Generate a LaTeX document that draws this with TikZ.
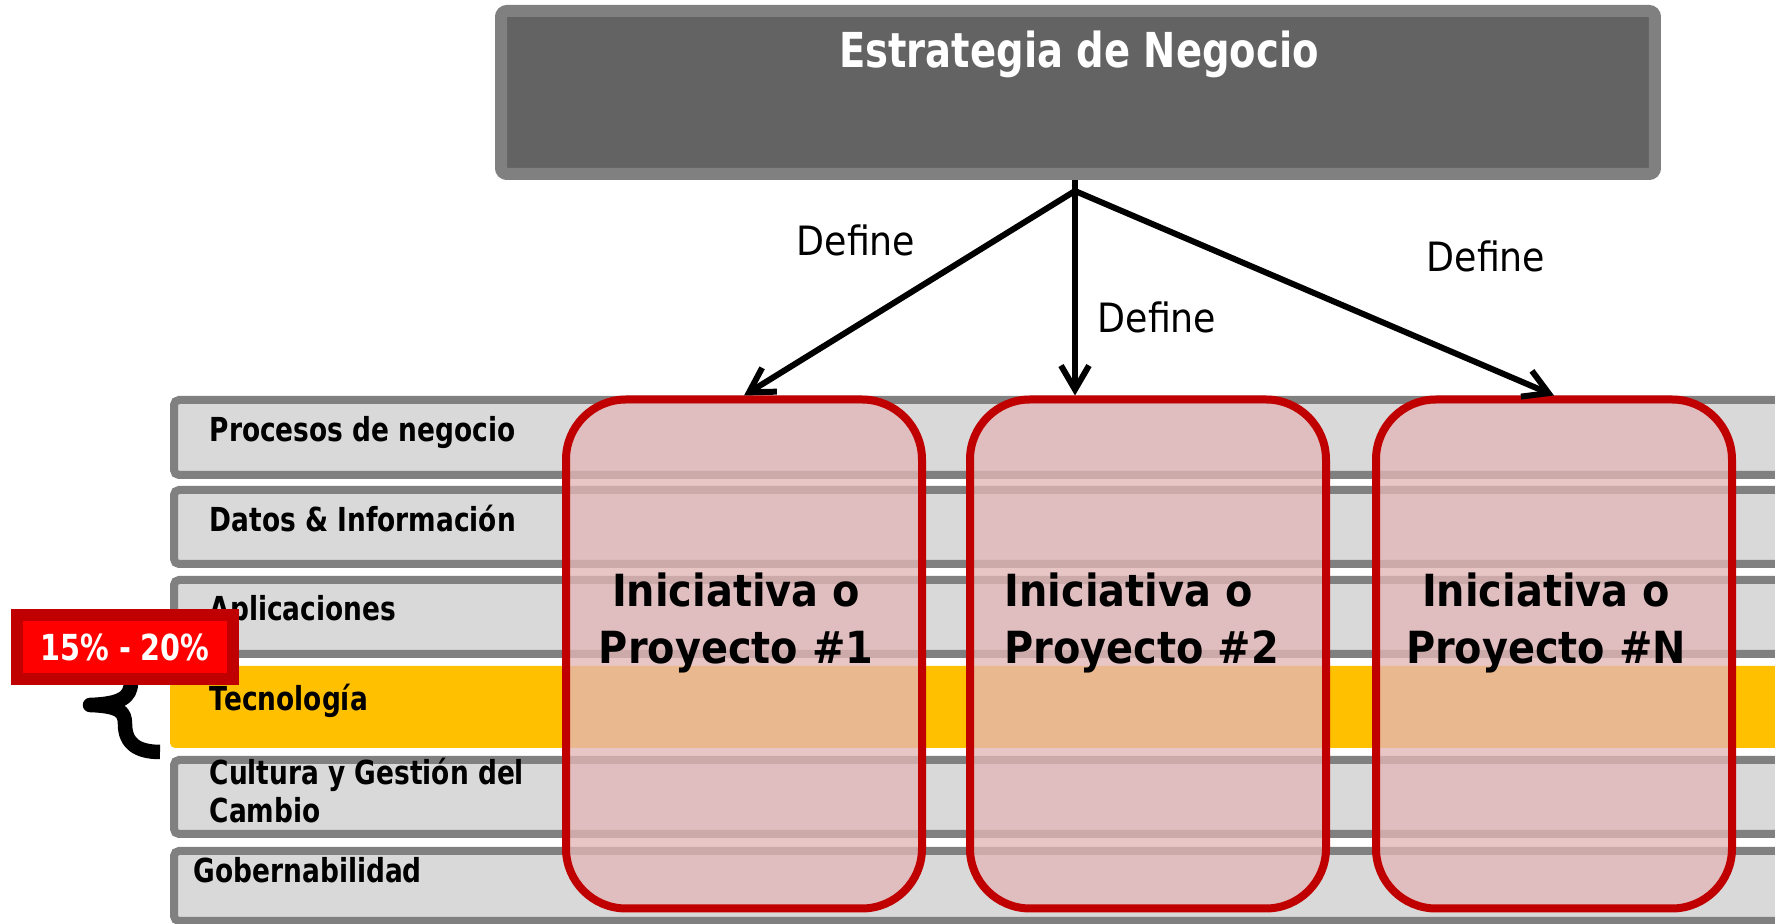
\documentclass[tikz,border=0pt]{standalone}
\usepackage{fontspec}
\setmainfont{DejaVu Sans}
\newfontfamily\fA{DejaVu Sans}[FakeStretch=0.8]
\newfontfamily\fB{DejaVu Sans}[FakeStretch=0.9]
\usetikzlibrary{arrows.meta}
\definecolor{cBarLine}{HTML}{808080}
\definecolor{cBarFill}{HTML}{D9D9D9}
\definecolor{cTec}{HTML}{FFC000}
\definecolor{cTopFill}{HTML}{636363}
\definecolor{cRedLine}{HTML}{C00000}
\definecolor{cRedFill}{HTML}{FF0000}
\definecolor{cPink}{HTML}{E3B6B7}
\tikzset{
  bar/.style={draw=cBarLine, fill=cBarFill, line width=0.8mm, rounded corners=0.5mm},
  barlabel/.style={anchor=base west, inner sep=0pt, font=\fA\bfseries\fontsize{9.4}{10.8}\selectfont},
  proj/.style={draw=cRedLine, fill=cPink, fill opacity=0.78, line width=0.8mm, rounded corners=6mm,
    minimum width=35.6mm, minimum height=50.9mm, inner sep=0pt},
  projtext/.style={anchor=base, inner sep=0pt, font=\fB\bfseries\fontsize{12.6}{16}\selectfont},
  deflabel/.style={anchor=base, inner sep=0pt, font=\fB\fontsize{11.5}{13}\selectfont},
  arr/.style={line width=0.6mm, -{Straight Barb[length=2.4mm,width=2.8mm]}},
  topbox/.style={draw=cBarLine, fill=cTopFill, line width=1.2mm, rounded corners=0.6mm,
    minimum width=115.4mm, minimum height=16.3mm, inner sep=0pt},
  pctbox/.style={draw=cRedLine, fill=cRedFill, line width=1.2mm, minimum width=21.6mm,
    minimum height=6.4mm, inner sep=0pt, text=white, font=\fA\bfseries\fontsize{10.2}{12}\selectfont},
  bracestyle/.style={line width=1.45mm, line join=round, line cap=butt}
}
\begin{document}
\begin{tikzpicture}[x=0.1mm,y=-0.1mm]
\useasboundingbox (0,0) rectangle (1775,924);
\fill[white] (0,0) rectangle (1775,924);
% layer bars
\begin{scope}
\clip (0,0) rectangle (1775,924);
\draw[bar] (174,400) rectangle (1800,475);
\draw[bar] (174,490) rectangle (1800,564);
\draw[bar] (174,580) rectangle (1800,654);
\fill[cTec, rounded corners=0.5mm] (170,666) rectangle (1800,748);
\draw[bar] (174,760) rectangle (1800,834);
\draw[bar] (174,851) rectangle (1800,921);
\end{scope}
% layer labels
\node[barlabel] (l1) at (209,442) {Procesos de negocio};
\node[barlabel] (l2) at (209,532) {Datos \& Información};
\node[barlabel] (l3) at (209,621) {Aplicaciones};
\node[barlabel] (l4) at (209,711) {Tecnología};
\node[barlabel] (l5a) at (209,785) {Cultura y Gestión del};
\node[barlabel] (l5b) at (209,823) {Cambio};
\node[barlabel] (l6) at (193,883) {Gobernabilidad};
% brace
\draw[bracestyle] (131,682) .. controls (131,698) and (120,704) .. (90,705)
  .. controls (120,706) and (125,712) .. (125,724)
  .. controls (125,744) and (138,752) .. (160,752);
% percentage label
\node[pctbox] (pct) at (125,647) {15\% - 20\%};
% project boxes
\node[proj] (p1) at (744,654) {};
\node[proj] (p2) at (1148,654) {};
\node[proj] (pN) at (1554,654) {};
\node[projtext] (p1a) at (736,607) {Iniciativa o};
\node[projtext] (p1b) at (736,664) {Proyecto \#1};
\node[projtext, anchor=base west] (p2a) at (1004,607) {Iniciativa o};
\node[projtext, anchor=base west] (p2b) at (1004,664) {Proyecto \#2};
\node[projtext] (pNa) at (1546,607) {Iniciativa o};
\node[projtext] (pNb) at (1546,664) {Proyecto \#N};
% strategy box
\node[topbox] (strat) at (1078,92.5) {};
\node[anchor=base, inner sep=0pt, text=white, font=\fA\bfseries\fontsize{13.7}{16}\selectfont] (stratT) at (1079,68) {Estrategia de Negocio};
% connectors
\coordinate (fan) at (1075,191);
\draw[arr] (strat.south -| fan) -- (fan |- p2.north);
\draw[arr] (fan) -- (p1.north);
\draw[arr] (fan) -- (pN.north);
% define labels
\node[deflabel] (d1) at (856,256) {Define};
\node[deflabel] (d2) at (1157,333) {Define};
\node[deflabel] (d3) at (1486,271.5) {Define};
\end{tikzpicture}
\end{document}
